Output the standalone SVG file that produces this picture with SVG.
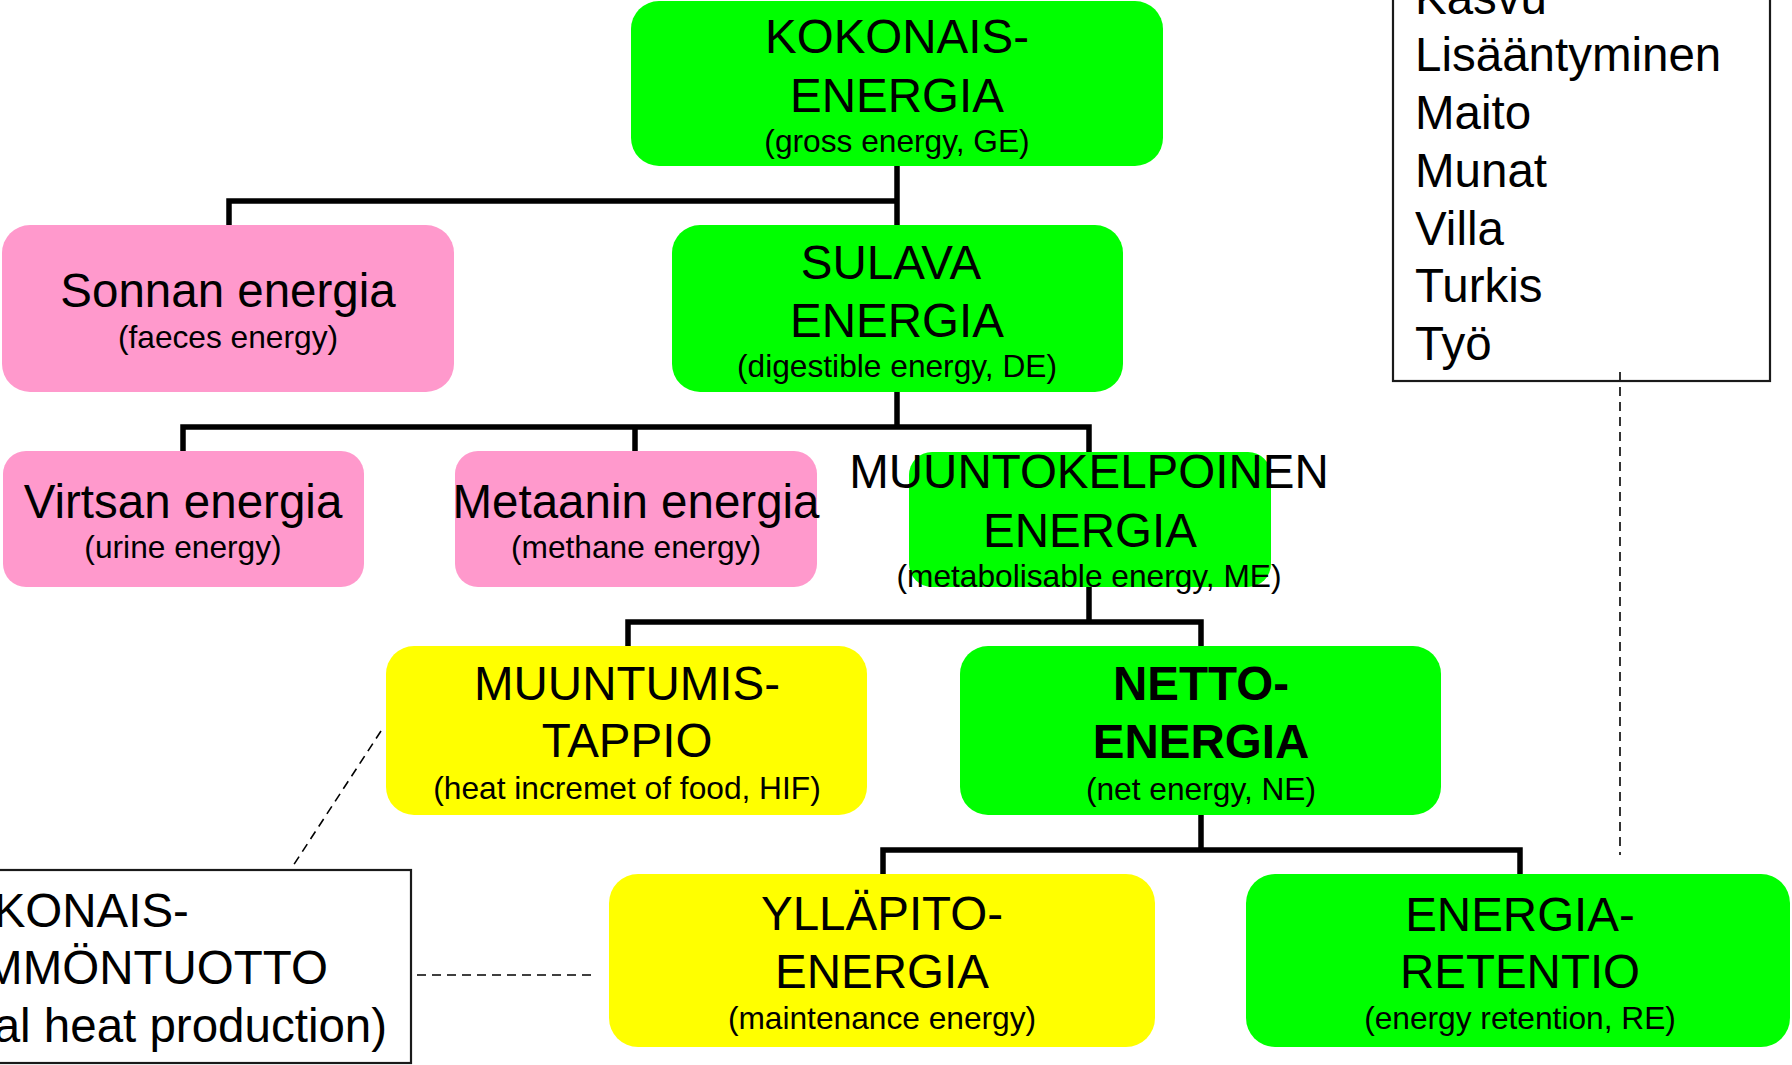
<svg xmlns="http://www.w3.org/2000/svg" width="1792" height="1065" viewBox="0 0 1792 1065">
<style>
text{font-family:"Liberation Sans",Arial,sans-serif;fill:#000}
.h{font-size:47.5px;text-anchor:middle}
.hb{font-size:47.5px;text-anchor:middle;font-weight:bold}
.s{font-size:31.7px;text-anchor:middle}
.l{font-size:47.5px}
.g{fill:#00FF00}
.p{fill:#FF99CC}
.y{fill:#FFFF00}
.conn{fill:none;stroke:#000;stroke-width:5.5}
.dash{fill:none;stroke:#000;stroke-width:1.6;stroke-dasharray:9 6}
.frame{fill:none;stroke:#1a1a1a;stroke-width:2.2}
</style>
<rect width="1792" height="1065" fill="#fff"/>
<g id="connectors">
<path class="conn" d="M897 166V225M897 201H229V225"/>
<path class="conn" d="M897 392V427M183 451V427H1089V452M635 427V451"/>
<path class="conn" d="M1089 587V622M628 646V622H1201V646"/>
<path class="conn" d="M1201 815V850M883 874V850H1520V874"/>
<path class="dash" d="M381 731L291 869"/>
<path class="dash" d="M417 975H593"/>
<path class="dash" d="M1620 372V855"/>
</g>
<g id="ge">
<rect class="g" x="631" y="1" width="532" height="165" rx="28"/>
<text class="h" x="897" y="53">KOKONAIS-</text>
<text class="h" x="897" y="112">ENERGIA</text>
<text class="s" x="897" y="152">(gross energy, GE)</text>
</g>
<g id="faeces">
<rect class="p" x="2" y="225" width="452" height="167" rx="28"/>
<text class="h" x="228" y="307">Sonnan energia</text>
<text class="s" x="228" y="348">(faeces energy)</text>
</g>
<g id="de">
<rect class="g" x="672" y="225" width="451" height="167" rx="28"/>
<text class="h" x="891" y="279">SULAVA</text>
<text class="h" x="897" y="337">ENERGIA</text>
<text class="s" x="897" y="377">(digestible energy, DE)</text>
</g>
<g id="urine">
<rect class="p" x="3" y="451" width="361" height="136" rx="23"/>
<text class="h" x="183" y="518">Virtsan energia</text>
<text class="s" x="183" y="558">(urine energy)</text>
</g>
<g id="methane">
<rect class="p" x="455" y="451" width="362" height="136" rx="23"/>
<text class="h" x="636" y="518">Metaanin energia</text>
<text class="s" x="636" y="558">(methane energy)</text>
</g>
<g id="me">
<rect class="g" x="909" y="452" width="362" height="135" rx="23"/>
<text class="h" x="1089" y="488">MUUNTOKELPOINEN</text>
<text class="h" x="1090" y="547">ENERGIA</text>
<text class="s" x="1089" y="587">(metabolisable energy, ME)</text>
</g>
<g id="hif">
<rect class="y" x="386" y="646" width="481" height="169" rx="28"/>
<text class="h" x="627" y="700">MUUNTUMIS-</text>
<text class="h" x="627" y="757">TAPPIO</text>
<text class="s" x="627" y="799">(heat incremet of food, HIF)</text>
</g>
<g id="ne">
<rect class="g" x="960" y="646" width="481" height="169" rx="28"/>
<text class="hb" x="1201" y="700">NETTO-</text>
<text class="hb" x="1201" y="758">ENERGIA</text>
<text class="s" x="1201" y="800">(net energy, NE)</text>
</g>
<g id="maintenance">
<rect class="y" x="609" y="874" width="546" height="173" rx="29"/>
<text class="h" x="882" y="930">YLLÄPITO-</text>
<text class="h" x="882" y="988">ENERGIA</text>
<text class="s" x="882" y="1029">(maintenance energy)</text>
</g>
<g id="re">
<rect class="g" x="1246" y="874" width="544" height="173" rx="29"/>
<text class="h" x="1520" y="931">ENERGIA-</text>
<text class="h" x="1520" y="988">RETENTIO</text>
<text class="s" x="1520" y="1029">(energy retention, RE)</text>
</g>
<g id="heat">
<rect class="frame" x="-20" y="870" width="431" height="193"/>
<text class="l" x="-75" y="927">KOKONAIS-</text>
<text class="l" x="-75" y="984">LÄMMÖNTUOTTO</text>
<text class="l" x="-75" y="1042">(total heat production)</text>
</g>
<g id="uses">
<rect class="frame" x="1393" y="-20" width="377" height="401"/>
<text class="l" x="1415" y="13.5">Kasvu</text>
<text class="l" x="1415" y="71">Lisääntyminen</text>
<text class="l" x="1415" y="129">Maito</text>
<text class="l" x="1415" y="187">Munat</text>
<text class="l" x="1415" y="244.5">Villa</text>
<text class="l" x="1415" y="302">Turkis</text>
<text class="l" x="1415" y="360">Työ</text>
</g>
</svg>
